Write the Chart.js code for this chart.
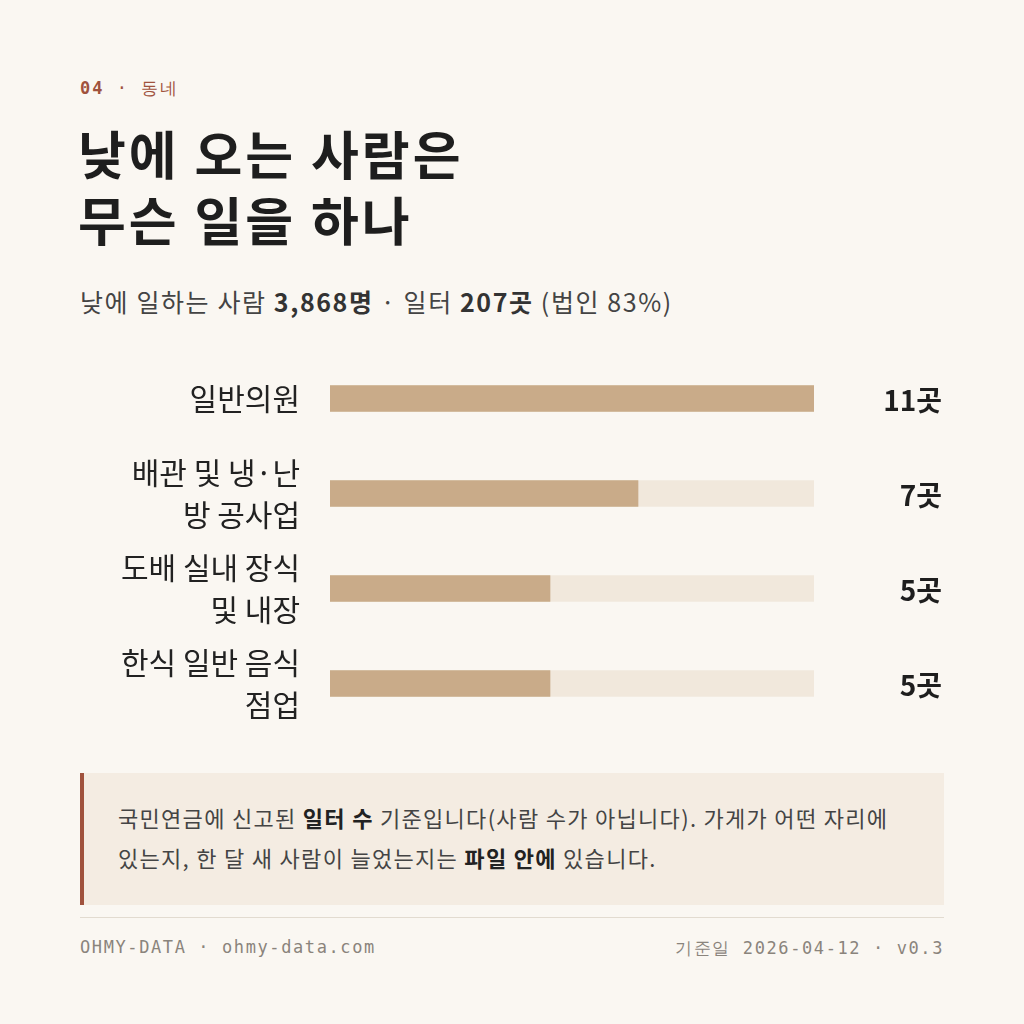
<!DOCTYPE html>
<html><head><meta charset="utf-8">
<script src="https://cdn.jsdelivr.net/npm/chart.js@4/dist/chart.umd.min.js"></script>
<style>
body{margin:0;width:1024px;height:1024px;background:#faf7f2;font-family:"Noto Sans CJK KR","Noto Sans",sans-serif;position:relative;overflow:hidden;color:#222}
.kick{position:absolute;left:80px;top:77px;font-size:17px;color:#a0523d;font-family:"DejaVu Sans Mono",monospace;letter-spacing:2px}
h1{position:absolute;left:78px;top:120px;margin:0;font-size:52px;line-height:66px;font-weight:bold;color:#1e1e1e;letter-spacing:3px}
.sub{position:absolute;left:80px;top:283px;font-size:25px;color:#444;letter-spacing:1.6px}
.sub b{color:#333}
#wrap{position:absolute;left:80px;top:351px;width:864px;height:380px}
.note{position:absolute;left:80px;top:773px;width:864px;height:132px;background:#f4ece2;border-left:4px solid #a0523d;box-sizing:border-box;padding:24px 30px 0 34px;font-size:22px;line-height:40px;color:#444;letter-spacing:1.3px}
.note b{color:#222}
.rule{position:absolute;left:80px;top:917px;width:864px;border-top:1px solid #e2dbd0}
.foot{position:absolute;top:937px;font-size:17px;color:#8a847c;font-family:"DejaVu Sans Mono",monospace;letter-spacing:1.6px}
</style></head><body>
<div class="kick"><b>04</b> · 동네</div>
<h1>낮에 오는 사람은<br>무슨 일을 하나</h1>
<div class="sub">낮에 일하는 사람 <b>3,868명</b> · 일터 <b>207곳</b> (법인 83%)</div>
<div id="wrap"><canvas id="c"></canvas></div>
<div class="note">국민연금에 신고된 <b>일터 수</b> 기준입니다(사람 수가 아닙니다). 가게가 어떤 자리에 있는지, 한 달 새 사람이 늘었는지는 <b>파일 안에</b> 있습니다.</div>
<div class="rule"></div>
<div class="foot" style="left:80px">OHMY-DATA · ohmy-data.com</div>
<div class="foot" style="right:80px">기준일 2026-04-12 · v0.3</div>
<script>
const categories=[["일반의원"],["배관 및 냉·난","방 공사업"],["도배 실내 장식","및 내장"],["한식 일반 음식","점업"]];
const counts=[11,7,5,5];
const unit="곳";
const maxVal=11;
const valPlugin={id:'vals',afterDatasetsDraw(ch){const ctx=ch.ctx;const m=ch.getDatasetMeta(1);ctx.save();ctx.font='bold 28px "Noto Sans CJK KR"';ctx.fillStyle='#1e1e1e';ctx.textAlign='right';ctx.textBaseline='middle';m.data.forEach((b,i)=>ctx.fillText(counts[i]+unit,ch.chartArea.right+128,b.y+2));ctx.restore();}};
new Chart(document.getElementById('c'),{type:'bar',
data:{labels:categories,datasets:[
{data:categories.map(()=>maxVal),backgroundColor:'#f1e8dc',barThickness:26,grouped:false,order:2},
{data:counts,backgroundColor:'#c9ab89',barThickness:26,grouped:false,order:1}]},
options:{indexAxis:'y',responsive:true,maintainAspectRatio:false,animation:false,
layout:{padding:{right:130,top:0,bottom:0}},
plugins:{legend:{display:false},tooltip:{enabled:false}},
scales:{x:{display:false,min:0,max:maxVal},
y:{grid:{display:false},border:{display:false},afterFit(s){s.width=250;s.paddingTop=0;s.paddingBottom=0;},
ticks:{color:'#222',font:{size:30,family:'"Noto Sans CJK KR"',lineHeight:1.4},padding:22}}}},
plugins:[valPlugin]});
</script>
</body></html>
